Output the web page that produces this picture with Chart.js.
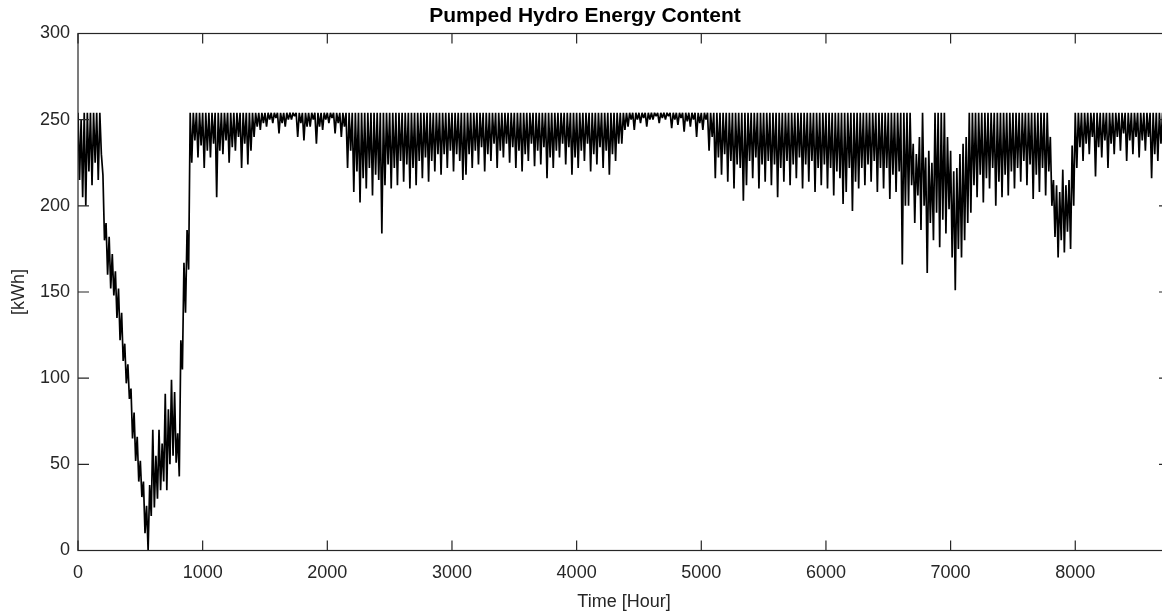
<!DOCTYPE html>
<html>
<head>
<meta charset="utf-8">
<script src="https://cdn.jsdelivr.net/npm/chart.js@4/dist/chart.umd.min.js"></script>
<style>
  html, body { margin: 0; padding: 0; background: #fff; overflow: hidden; }
  #wrap { width: 1180px; height: 613px; }
</style>
</head>
<body>
<div id="wrap"><canvas id="pumpedChart" width="1180" height="613"></canvas></div>
<script>
// energy content: one high and one low per ~day (25 h step)
var STEP_HOURS = 25;
var highKWh = [
  254, 250, 254, 254, 254, 254, 254, 254, 218, 190, 182, 172, 162, 152, 138, 120, 108, 94, 80, 66,   // 0
  52, 40, 26, 38, 70, 55, 70, 62, 91, 82, 99, 92, 68, 122, 167, 186, 254, 254, 254, 254,             // 500
  254, 254, 254, 254, 254, 254, 254, 254, 254, 254, 254, 254, 254, 254, 254, 254, 254, 254, 254, 254, // 1000
  254, 254, 254, 254, 254, 254, 254, 254, 254, 254, 254, 254, 254, 254, 254, 254, 254, 254, 254, 254, // 1500
  254, 254, 254, 254, 254, 254, 254, 254, 254, 254, 254, 254, 254, 254, 254, 254, 254, 254, 254, 254, // 2000
  254, 254, 254, 254, 254, 254, 254, 254, 254, 254, 254, 254, 254, 254, 254, 254, 254, 254, 254, 254, // 2500
  254, 254, 254, 254, 254, 254, 254, 254, 254, 254, 254, 254, 254, 254, 254, 254, 254, 254, 254, 254, // 3000
  254, 254, 254, 254, 254, 254, 254, 254, 254, 254, 254, 254, 254, 254, 254, 254, 254, 254, 254, 254, // 3500
  254, 254, 254, 254, 254, 254, 254, 254, 254, 254, 254, 254, 254, 254, 254, 254, 254, 254, 254, 254, // 4000
  254, 254, 254, 254, 254, 254, 254, 254, 254, 254, 254, 254, 254, 254, 254, 254, 254, 254, 254, 254, // 4500
  254, 254, 254, 254, 254, 254, 254, 254, 254, 254, 254, 254, 254, 254, 254, 254, 254, 254, 254, 254, // 5000
  254, 254, 254, 254, 254, 254, 254, 254, 254, 254, 254, 254, 254, 254, 254, 254, 254, 254, 254, 254, // 5500
  254, 254, 254, 254, 254, 254, 254, 254, 254, 254, 254, 254, 254, 254, 254, 254, 254, 254, 254, 254, // 6000
  254, 254, 254, 254, 254, 254, 254, 254, 236, 230, 240, 254, 228, 232, 225, 254, 254, 254, 254, 240, // 6500
  232, 220, 222, 230, 236, 240, 254, 254, 254, 254, 254, 254, 254, 254, 254, 254, 254, 254, 254, 254, // 7000
  254, 254, 254, 254, 254, 254, 254, 254, 254, 254, 254, 254, 240, 215, 212, 208, 221, 212, 215, 235, // 7500
  254, 254, 254, 254, 254, 254, 254, 254, 254, 254, 254, 254, 254, 254, 254, 254, 254, 254, 254, 254, // 8000
  254, 254, 254, 254, 254, 254, 254, 254, 254, 254, 254                                              // 8500
];
var lowKWh = [
  215, 205, 200, 220, 212, 225, 215, 230, 180, 160, 152, 148, 135, 122, 110, 97, 88, 65, 52, 40,     // 0
  31, 10, 0, 20, 25, 30, 35, 40, 35, 50, 55, 51, 43, 105, 138, 163, 225, 238, 228, 235,              // 500
  222, 232, 228, 236, 205, 232, 230, 238, 225, 234, 232, 240, 222, 236, 224, 232, 240, 246, 244, 248, // 1000
  246, 250, 248, 251, 242, 248, 246, 250, 250, 252, 240, 248, 238, 246, 246, 250, 236, 246, 244, 250, // 1500
  248, 251, 242, 248, 240, 246, 222, 232, 208, 220, 202, 216, 210, 222, 206, 218, 215, 184, 212, 224, // 2000
  210, 222, 212, 226, 214, 224, 210, 222, 212, 226, 216, 228, 214, 226, 220, 230, 218, 230, 222, 232, // 2500
  220, 230, 226, 215, 218, 230, 222, 232, 224, 234, 220, 230, 226, 236, 222, 232, 228, 236, 225, 234, // 3000
  222, 232, 220, 230, 226, 236, 223, 232, 224, 234, 216, 228, 222, 232, 228, 236, 224, 234, 218, 228, // 3500
  222, 232, 226, 236, 220, 230, 224, 234, 222, 232, 218, 230, 226, 236, 236, 244, 246, 250, 244, 250, // 4000
  248, 251, 246, 250, 250, 252, 248, 251, 250, 252, 245, 250, 247, 251, 243, 249, 246, 250, 240, 248, // 4500
  244, 250, 232, 240, 216, 228, 218, 230, 214, 226, 210, 224, 222, 203, 212, 226, 216, 228, 210, 224, // 5000
  214, 226, 212, 224, 205, 222, 214, 226, 212, 224, 216, 228, 210, 224, 214, 226, 208, 222, 212, 224, // 5500
  210, 222, 206, 220, 216, 201, 208, 222, 197, 214, 210, 222, 212, 224, 214, 226, 208, 222, 210, 222, // 6000
  204, 218, 208, 220, 166, 200, 200, 212, 190, 206, 186, 200, 161, 190, 180, 196, 176, 192, 184, 198, // 6500
  170, 151, 175, 170, 180, 190, 196, 212, 205, 218, 202, 216, 210, 222, 200, 214, 205, 218, 206, 220, // 7000
  210, 222, 214, 226, 212, 224, 204, 218, 208, 222, 206, 220, 200, 182, 170, 180, 173, 185, 175, 200, // 7500
  222, 234, 226, 236, 230, 240, 217, 234, 228, 238, 222, 236, 230, 240, 232, 242, 226, 238, 230, 240, // 8000
  228, 238, 232, 240, 216, 230, 226, 236, 230, 238, 232                                              // 8500
];
var xTicks = [0, 1000, 2000, 3000, 4000, 5000, 6000, 7000, 8000];
var yTicks = [0, 50, 100, 150, 200, 250, 300];

var points = [];
for (var i = 0; i < highKWh.length; i++) {
  points.push({ x: i * STEP_HOURS, y: highKWh[i] });
  points.push({ x: i * STEP_HOURS + STEP_HOURS / 2, y: lowKWh[i] });
}

var axisColor = '#262626';
var fontFamily = '"Liberation Sans", Arial, sans-serif';

// matlab style box with inward ticks on all four sides
var boxPlugin = {
  id: 'matlabBox',
  afterDraw: function(chart) {
    var ctx = chart.ctx, a = chart.chartArea;
    var xs = chart.scales.x, ys = chart.scales.y;
    ctx.save();
    ctx.strokeStyle = axisColor;
    ctx.lineWidth = 1.2;
    ctx.strokeRect(a.left, a.top, a.right - a.left, a.bottom - a.top);
    ctx.beginPath();
    xs.ticks.forEach(function(t) {
      var px = xs.getPixelForValue(t.value);
      ctx.moveTo(px, a.bottom); ctx.lineTo(px, a.bottom - 10);
      ctx.moveTo(px, a.top); ctx.lineTo(px, a.top + 10);
    });
    ys.ticks.forEach(function(t) {
      var py = ys.getPixelForValue(t.value);
      ctx.moveTo(a.left, py); ctx.lineTo(a.left + 11, py);
      ctx.moveTo(a.right, py); ctx.lineTo(a.right - 11, py);
    });
    ctx.stroke();
    ctx.restore();
  }
};

var ctx = document.getElementById('pumpedChart').getContext('2d');
var pumpedChart = new Chart(ctx, {
  type: 'line',
  data: {
    datasets: [{
      label: 'Energy content',
      data: points,
      borderColor: '#000',
      borderWidth: 1.7,
      borderJoinStyle: 'bevel',
      pointRadius: 0,
      tension: 0,
      fill: false
    }]
  },
  options: {
    responsive: false,
    animation: false,
    layout: { padding: { left: 0, right: 10, top: 0, bottom: 0 } },
    plugins: {
      legend: { display: false },
      tooltip: { enabled: false },
      title: {
        display: true,
        text: 'Pumped Hydro Energy Content',
        color: '#000',
        font: { family: fontFamily, size: 21, weight: 'bold' },
        padding: { top: 4, bottom: 4.3 }
      }
    },
    scales: {
      x: {
        type: 'linear',
        min: 0,
        max: 8760,
        afterBuildTicks: function(scale) {
          scale.ticks = xTicks.map(function(v) { return { value: v }; });
        },
        afterFit: function(scale) { scale.height = 62.5; },
        grid: { display: false, drawTicks: false },
        border: { display: false },
        ticks: {
          color: axisColor,
          padding: 12,
          maxRotation: 0,
          font: { family: fontFamily, size: 18 },
          callback: function(v) { return String(v); }
        },
        title: {
          display: true,
          text: 'Time [Hour]',
          color: axisColor,
          padding: { top: 2, bottom: 0 },
          font: { family: fontFamily, size: 18 }
        }
      },
      y: {
        min: 0,
        max: 300,
        afterBuildTicks: function(scale) {
          scale.ticks = yTicks.map(function(v) { return { value: v }; });
        },
        afterFit: function(scale) { scale.width = 78; },
        grid: { display: false, drawTicks: false },
        border: { display: false },
        ticks: {
          color: axisColor,
          padding: 8,
          font: { family: fontFamily, size: 18 },
          callback: function(v) { return String(v); }
        },
        title: {
          display: true,
          text: '[kWh]',
          color: axisColor,
          padding: { top: 8, bottom: 0 },
          font: { family: fontFamily, size: 18 }
        }
      }
    }
  },
  plugins: [boxPlugin]
});
</script>
</body>
</html>
